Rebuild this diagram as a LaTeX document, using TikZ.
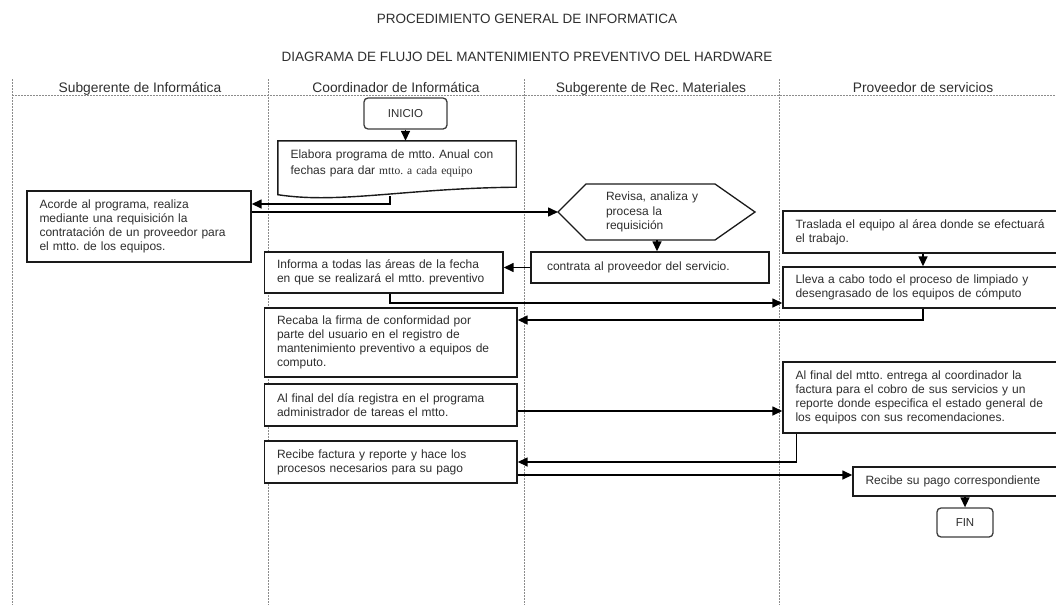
\documentclass[tikz,border=0pt]{standalone}
\usepackage{fontspec}
\setmainfont{Liberation Sans}
\newfontfamily\serifface{Liberation Serif}
\usetikzlibrary{arrows.meta}
\frenchspacing
\definecolor{ink}{HTML}{2E2E2E}
\definecolor{edge}{HTML}{1A1A1A}
\definecolor{lane}{HTML}{8C8C8C}
\tikzset{
  stepbox/.style={draw=edge, line width=1.4pt, fill=white, text=ink,
    inner xsep=12.5pt, inner ysep=0pt, align=left,
    font=\fontsize{12}{14}\selectfont},
  terminal/.style={draw=edge!85, line width=1.3pt, rounded corners=4pt,
    fill=white, text=ink, inner sep=0pt, font=\fontsize{11.5}{14}\selectfont},
  outline/.style={draw=edge, line width=1.4pt},
  arr/.style={draw=black, line width=1.5pt, -{Triangle[length=10pt,width=9pt]}},
  lanesep/.style={draw=lane, line width=0.9pt, dash pattern=on 2pt off 1pt},
  hdr/.style={text=ink, anchor=base, font=\fontsize{13.8}{16}\selectfont},
  ttl/.style={text=ink, anchor=base, font=\fontsize{13.5}{16}\selectfont},
}
\begin{document}
\begin{tikzpicture}[x=1pt,y=-1pt]
\useasboundingbox (0,0) rectangle (1056,605);
\clip (0,0) rectangle (1056,605);

% titles
\node[ttl] (title1) at (527,23.5) {PROCEDIMIENTO GENERAL DE INFORMATICA};
\node[ttl] (title2) at (527,61) {DIAGRAMA DE FLUJO DEL MANTENIMIENTO PREVENTIVO DEL HARDWARE};

% swimlanes
\draw[lanesep] (12,95) -- (1056,95);
\foreach \lx in {12.5,268,524,779}
  \draw[lanesep] (\lx,79) -- (\lx,605);
\node[hdr] (lane1) at (140,92) {Subgerente de Informática};
\node[hdr] (lane2) at (396,92) {Coordinador de Informática};
\node[hdr] (lane3) at (651,92) {Subgerente de Rec. Materiales};
\node[hdr] (lane4) at (923,92) {Proveedor de servicios};

% terminals
\node[terminal, minimum width=83pt, minimum height=31pt] (inicio) at (405.5,113.5) {INICIO};
\node[terminal, minimum width=56pt, minimum height=29pt] (fin) at (965,522.5) {FIN};

% document step with wavy bottom
\node[text=ink, inner xsep=12.5pt, inner ysep=0pt, text width=213pt, minimum height=45pt,
      align=left, font=\fontsize{12}{16}\selectfont] (elab) at (397,163.5)
  {Elabora programa de mtto. Anual con\\fechas para dar {\serifface\fontsize{11.5}{16}\selectfont mtto. a cada equipo}};
\draw[outline] (elab.north west) -- (elab.north east) -- ([yshift=-1pt]elab.south east)
  .. controls ([xshift=-110pt,yshift=-2pt]elab.south east) and ([xshift=62pt,yshift=-18pt]elab.south west)
  .. ([yshift=-8.5pt]elab.south west) -- cycle;

% decision-like hexagon
\node[text=ink, inner sep=0pt, text width=95pt, align=left,
      font=\fontsize{12}{14.5}\selectfont] (hex) at (653.5,212)
  {Revisa, analiza y\\procesa la\\requisición};
\coordinate (hexL) at ([xshift=-95.5pt]hex.center);
\coordinate (hexB) at ([xshift=3.5pt,yshift=-28pt]hex.center);
\draw[outline, line width=1.3pt] (hexL) -- ([xshift=-67.5pt,yshift=28pt]hex.center)
  -- ([xshift=61.5pt,yshift=28pt]hex.center) -- ([xshift=101.5pt]hex.center)
  -- ([xshift=61.5pt,yshift=-28pt]hex.center) -- ([xshift=-67.5pt,yshift=-28pt]hex.center) -- cycle;

% process steps
\node[stepbox, text width=199pt, minimum height=71pt] (acorde) at (139,226.5)
  {Acorde al programa, realiza\\mediante una requisición la\\contratación de un proveedor para\\el mtto. de los equipos.};
\node[stepbox, text width=213.5pt, minimum height=41pt] (informa) at (383.75,272.5)
  {Informa a todas las áreas de la fecha\\en que se realizará el mtto. preventivo};
\node[stepbox, text width=227.5pt, minimum height=69pt] (recaba) at (390.75,342.5)
  {Recaba la firma de conformidad por\\parte del usuario en el registro de\\mantenimiento preventivo a equipos de\\computo.};
\node[stepbox, text width=227.5pt, minimum height=42pt] (dia) at (390.75,405)
  {Al final del día registra en el programa\\administrador de tareas el mtto.};
\node[stepbox, text width=227.5pt, minimum height=42pt] (recfact) at (390.75,462)
  {Recibe factura y reporte y hace los\\procesos necesarios para su pago};
\node[stepbox, inner xsep=16pt, text width=206pt, minimum height=31pt] (contrata) at (650,267.5)
  {contrata al proveedor del servicio.};
\node[stepbox, text width=255pt, minimum height=42pt] (traslada) at (923,232)
  {Traslada el equipo al área donde se efectuará\\el trabajo.};
\node[stepbox, text width=255pt, minimum height=41pt] (lleva) at (923,287.5)
  {Lleva a cabo todo el proceso de limpiado y\\desengrasado de los equipos de cómputo};
\node[stepbox, text width=255pt, minimum height=71pt] (mtto) at (923,397.5)
  {Al final del mtto. entrega al coordinador la\\factura para el cobro de sus servicios y un\\reporte donde especifica el estado general de\\los equipos con sus recomendaciones.};
\node[stepbox, text width=199pt, minimum height=29pt] (pago) at (965,481.5)
  {Recibe su pago correspondiente};

% connectors
\draw[arr] (inicio.south) -- (inicio.south |- elab.north);
\draw[arr] ([xshift=-7pt,yshift=-10pt]elab.south) |- ([yshift=22.5pt]acorde.east);
\draw[arr] (acorde.east |- hexL) -- (hexL);
\draw[arr] (hexB) -- (hexB |- contrata.north);
\draw[arr] (contrata.west) -- (contrata.west -| informa.east);
\draw[arr] ([xshift=6pt]informa.south) |- ([yshift=-15.5pt]lleva.west);
\draw[arr] (traslada.south) -- (lleva.north);
\draw[arr] (lleva.south) |- ([yshift=22.5pt]recaba.east);
\draw[arr] ([yshift=-6pt]dia.east) -- ([yshift=-6pt]dia.east -| mtto.west);
\draw[arr] ([xshift=14pt]mtto.south west) |- (recfact.east);
\draw[arr] ([yshift=-13pt]recfact.east) -- ([yshift=-13pt]recfact.east -| pago.west);
\draw[arr] (pago.south) -- (fin.north);
\end{tikzpicture}
\end{document}
